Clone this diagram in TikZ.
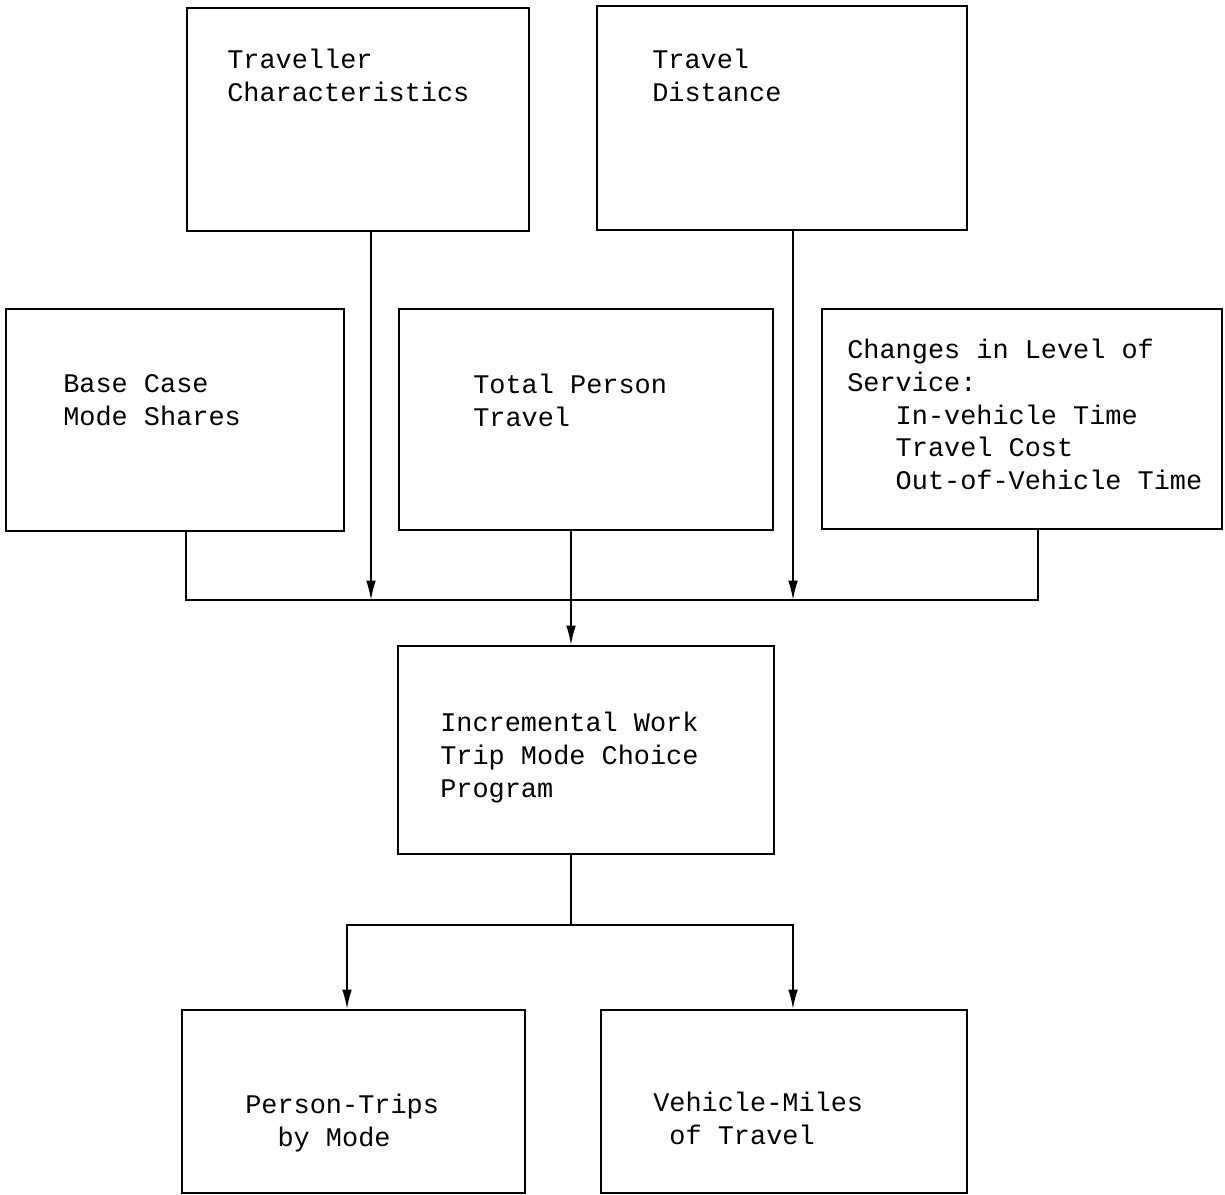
\documentclass[tikz,border=0pt]{standalone}
\usepackage{fontspec}
\setmonofont{Liberation Mono}
\usetikzlibrary{arrows.meta}
\begin{document}
\begin{tikzpicture}[x=0.02cm,y=-0.02cm,
  box/.style={draw, line width=1.2pt, inner sep=0pt, anchor=north west},
  lbl/.style={anchor=north west, inner sep=0pt, align=left,
    font=\ttfamily\fontsize{15.3}{18.6}\selectfont},
  wire/.style={line width=0.9pt},
  arr/.style={wire, -{Latex[length=11pt,width=5.5pt]}}]
\useasboundingbox (0,0) rectangle (1225,1195);

% boxes
\node[box, minimum width=342*0.02cm, minimum height=223*0.02cm] (tc) at (186,7) {};
\node[box, minimum width=370*0.02cm, minimum height=224*0.02cm] (td) at (596,5) {};
\node[box, minimum width=338*0.02cm, minimum height=222*0.02cm] (bc) at (5,308) {};
\node[box, minimum width=374*0.02cm, minimum height=221*0.02cm] (tp) at (398,308) {};
\node[box, minimum width=400*0.02cm, minimum height=220*0.02cm] (ls) at (821,308) {};
\node[box, minimum width=376*0.02cm, minimum height=208*0.02cm] (ic) at (397,645) {};
\node[box, minimum width=343*0.02cm, minimum height=183*0.02cm] (pt) at (181,1009) {};
\node[box, minimum width=366*0.02cm, minimum height=183*0.02cm] (vm) at (600,1009) {};

% labels
\node[lbl] (tcl) at (227,49) {Traveller\\Characteristics};
\node[lbl] (tdl) at (652,49) {Travel\\Distance};
\node[lbl] (bcl) at (63,374) {Base Case\\Mode Shares};
\node[lbl] (tpl) at (473,374) {Total Person\\Travel};
\node[lbl] (lsl) at (847,339) {Changes in Level of\\Service:\\
  \hspace*{1.8em}In-vehicle Time\\\hspace*{1.8em}Travel Cost\\\hspace*{1.8em}Out-of-Vehicle Time};
\node[lbl] (icl) at (440,712) {Incremental Work\\Trip Mode Choice\\Program};
\node[lbl] (ptl) at (245,1094) {Person-Trips\\\hspace*{1.2em}by Mode};
\node[lbl] (vml) at (653,1092) {Vehicle-Miles\\\hspace*{0.6em}of Travel};

% junction points
\coordinate (jA) at (186,600);
\coordinate (jB) at (371,600);
\coordinate (jC) at (571,600);
\coordinate (jD) at (793,600);
\coordinate (jE) at (1038,600);
\coordinate (jF) at (571,925);
\coordinate (jG) at (347,925);
\coordinate (jH) at (793,925);

% collecting line
\draw[wire] (bc.south -| jA) -- (jA) -- (jE) -- (ls.south -| jE);
\draw[arr] (tc.south -| jB) -- (jB);
\draw[arr] (td.south -| jD) -- (jD);
\draw[wire] (tp.south -| jC) -- (jC);
\draw[arr] (jC) -- (ic.north -| jC);

% outputs
\draw[wire] (ic.south -| jF) -- (jF);
\draw[arr] (jF) -- (jG) -- (pt.north -| jG);
\draw[arr] (jF) -- (jH) -- (vm.north -| jH);
\end{tikzpicture}
\end{document}
